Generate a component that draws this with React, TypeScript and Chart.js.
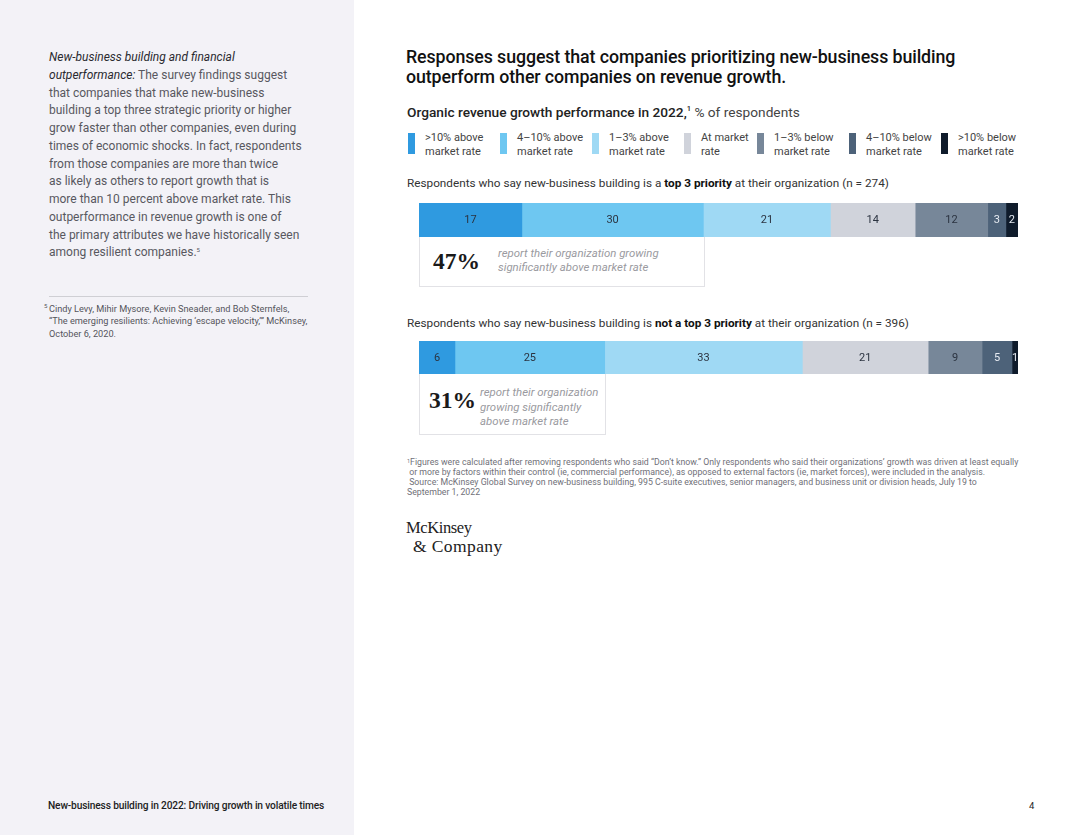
import React, { useEffect, useRef } from 'react';
import { Chart, registerables } from 'chart.js';

Chart.register(...registerables);

// ---------- DATA ----------
const categories = [
  '>10% above market rate',
  '4–10% above market rate',
  '1–3% above market rate',
  'At market rate',
  '1–3% below market rate',
  '4–10% below market rate',
  '>10% below market rate',
];
const legendLines = [
  ['>10% above', 'market rate'],
  ['4–10% above', 'market rate'],
  ['1–3% above', 'market rate'],
  ['At market', 'rate'],
  ['1–3% below', 'market rate'],
  ['4–10% below', 'market rate'],
  ['>10% below', 'market rate'],
];
const top3Values = [17, 30, 21, 14, 12, 3, 2];
const notTop3Values = [6, 25, 33, 21, 9, 5, 1];

// ---------- STYLE ----------
const colors = ['#2f9ae0', '#6ec7f1', '#9fd9f4', '#d0d3db', '#778799', '#4d6279', '#0f1b2b'];
const labelColors = ['#2b3340', '#2b3340', '#2b3340', '#2b3340', '#2b3340', '#e6ebf2', '#e6ebf2'];
const legendX = [408, 500, 592, 684, 757, 849, 941];

const FONT = 'Roboto, "Noto Sans", sans-serif';
const SERIF = '"Liberation Serif", "DejaVu Serif", serif';

const segmentLabels = {
  id: 'segmentLabels',
  afterDatasetsDraw(chart: any) {
    const ctx = chart.ctx;
    ctx.save();
    ctx.font = '11px Roboto';
    ctx.textAlign = 'center';
    ctx.textBaseline = 'middle';
    chart.data.datasets.forEach((ds: any, i: number) => {
      const meta = chart.getDatasetMeta(i);
      meta.data.forEach((el: any, j: number) => {
        const p = el.getProps(['x', 'base', 'y'], true);
        ctx.fillStyle = labelColors[i];
        ctx.fillText(String(ds.data[j]), (p.x + p.base) / 2, p.y + 0.5);
      });
    });
    ctx.restore();
  },
};

function StackedBar({ values, top, height }: { values: number[]; top: number; height: number }) {
  const ref = useRef<HTMLCanvasElement | null>(null);
  useEffect(() => {
    const total = values.reduce((a, b) => a + b, 0);
    const chart = new Chart(ref.current as HTMLCanvasElement, {
      type: 'bar',
      data: {
        labels: [''],
        datasets: categories.map((c, i) => ({
          label: c,
          data: [values[i]],
          backgroundColor: colors[i],
          borderWidth: 0,
          barPercentage: 1,
          categoryPercentage: 1,
        })),
      },
      options: {
        indexAxis: 'y',
        animation: false,
        responsive: true,
        maintainAspectRatio: false,
        layout: { padding: 0 },
        plugins: { legend: { display: false }, tooltip: { enabled: false } },
        scales: {
          x: { stacked: true, min: 0, max: total, display: false },
          y: { stacked: true, display: false },
        },
      } as any,
      plugins: [segmentLabels as any],
    });
    return () => chart.destroy();
  }, [values]);
  return (
    <div style={{ position: 'absolute', left: 419, top, width: 599, height }}>
      <canvas ref={ref} />
    </div>
  );
}

const abs = (left: number, top: number, extra: React.CSSProperties = {}): React.CSSProperties => ({
  position: 'absolute',
  left,
  top,
  whiteSpace: 'nowrap',
  ...extra,
});

const leftLines: React.ReactNode[] = [
  <i style={{ color: '#2a2a30' }}>New-business building and financial</i>,
  <><i style={{ color: '#2a2a30' }}>outperformance:</i> The survey findings suggest</>,
  'that companies that make new-business',
  'building a top three strategic priority or higher',
  'grow faster than other companies, even during',
  'times of economic shocks. In fact, respondents',
  'from those companies are more than twice',
  'as likely as others to report growth that is',
  'more than 10 percent above market rate. This',
  'outperformance in revenue growth is one of',
  'the primary attributes we have historically seen',
  <>among resilient companies.<sup style={{ fontSize: 6, verticalAlign: 'top', lineHeight: '12px' }}>5</sup></>,
];

export default function App() {
  useEffect(() => {
    document.body.style.margin = '0';
  }, []);
  return (
    <div
      style={{
        position: 'fixed',
        left: 0,
        top: 0,
        width: 1080,
        height: 835,
        background: '#ffffff',
        fontFamily: FONT,
        overflow: 'hidden',
      }}
    >
      {/* Left panel */}
      <div style={{ position: 'absolute', left: 0, top: 0, width: 354, height: 835, background: '#f3f2f7' }} />
      <div style={abs(49, 49, { fontSize: 12, lineHeight: '17.75px', color: '#58585f' })}>
        {leftLines.map((l, i) => (
          <div key={i}>{l}</div>
        ))}
      </div>
      <div style={{ position: 'absolute', left: 49, top: 296, width: 259, height: 1, background: '#cfcfd4' }} />
      <div style={abs(44, 302, { fontSize: 6, color: '#55555c' })}>5</div>
      <div style={abs(49, 302.5, { fontSize: 9.2, lineHeight: '12.5px', color: '#55555c' })}>
        <div>Cindy Levy, Mihir Mysore, Kevin Sneader, and Bob Sternfels,</div>
        <div>“The emerging resilients: Achieving ‘escape velocity,’” McKinsey,</div>
        <div>October 6, 2020.</div>
      </div>
      <div style={abs(48, 800, { fontSize: 10.2, lineHeight: '12px', color: '#1e1e24', fontWeight: 500, letterSpacing: -0.15 })}>
        New-business building in 2022: Driving growth in volatile times
      </div>
      <div style={abs(1029, 800, { fontSize: 9.5, lineHeight: '12px', color: '#1e1e24' })}>4</div>

      {/* Title */}
      <div style={abs(406, 47, { fontSize: 17.8, lineHeight: '20px', fontWeight: 500, color: '#111', letterSpacing: -0.1 })}>
        <div>Responses suggest that companies prioritizing new-business building</div>
        <div>outperform other companies on revenue growth.</div>
      </div>
      <div style={abs(407, 104, { fontSize: 13.7, lineHeight: '16px', color: '#222' })}>
        <span style={{ fontWeight: 500 }}>
          Organic revenue growth performance in 2022,<sup style={{ fontSize: 7.5, verticalAlign: 'top', lineHeight: '10px' }}>1</sup>
        </span>{' '}
        <span style={{ color: '#444' }}>% of respondents</span>
      </div>

      {/* Legend */}
      {legendLines.map((lines, i) => (
        <React.Fragment key={i}>
          <div style={{ position: 'absolute', left: legendX[i], top: 133, width: 7, height: 21, background: colors[i] }} />
          <div style={abs(legendX[i] + 17, 131, { fontSize: 11, lineHeight: '14px', color: '#444' })}>
            <div>{lines[0]}</div>
            <div>{lines[1]}</div>
          </div>
        </React.Fragment>
      ))}

      {/* Group 1 */}
      <div style={abs(407, 176, { fontSize: 11.75, lineHeight: '14px', color: '#333' })}>
        Respondents who say new-business building is a <b style={{ fontWeight: 700, color: '#111' }}>top 3 priority</b> at their organization (n = 274)
      </div>
      <StackedBar values={top3Values} top={203} height={34} />
      <div
        style={{
          position: 'absolute',
          left: 419,
          top: 237,
          width: 284,
          height: 49,
          borderLeft: '1px solid #e2e2e6',
          borderRight: '1px solid #e2e2e6',
          borderBottom: '1px solid #e2e2e6',
        }}
      />
      <div style={abs(433, 248, { fontFamily: SERIF, fontSize: 23.5, lineHeight: '26px', fontWeight: 700, color: '#1a1a1a' })}>47%</div>
      <div style={abs(498, 246, { fontSize: 11.4, lineHeight: '14px', color: '#9a9aa0', fontStyle: 'italic' })}>
        <div>report their organization growing</div>
        <div>significantly above market rate</div>
      </div>

      {/* Group 2 */}
      <div style={abs(407, 316, { fontSize: 11.75, lineHeight: '14px', color: '#333' })}>
        Respondents who say new-business building is <b style={{ fontWeight: 700, color: '#111' }}>not a top 3 priority</b> at their organization (n = 396)
      </div>
      <StackedBar values={notTop3Values} top={341} height={33} />
      <div
        style={{
          position: 'absolute',
          left: 419,
          top: 374,
          width: 185,
          height: 60,
          borderLeft: '1px solid #e2e2e6',
          borderRight: '1px solid #e2e2e6',
          borderBottom: '1px solid #e2e2e6',
        }}
      />
      <div style={abs(429, 387, { fontFamily: SERIF, fontSize: 23.5, lineHeight: '26px', fontWeight: 700, color: '#1a1a1a' })}>31%</div>
      <div style={abs(480, 385, { fontSize: 11.4, lineHeight: '14.5px', color: '#9a9aa0', fontStyle: 'italic' })}>
        <div>report their organization</div>
        <div>growing significantly</div>
        <div>above market rate</div>
      </div>

      {/* Footnotes */}
      <div style={abs(407, 457, { fontSize: 8.75, lineHeight: '10px', color: '#707078' })}>
        <div>
          <sup style={{ fontSize: 5.5, verticalAlign: 'top', lineHeight: '8px' }}>1</sup>Figures were calculated after removing respondents who said “Don’t know.” Only respondents who said their organizations’ growth was driven at least equally
        </div>
        <div>&nbsp;or more by factors within their control (ie, commercial performance), as opposed to external factors (ie, market forces), were included in the analysis.</div>
        <div>&nbsp;Source: McKinsey Global Survey on new-business building, 995 C-suite executives, senior managers, and business unit or division heads, July 19 to</div>
        <div>September 1, 2022</div>
      </div>

      {/* Logo */}
      <div style={abs(406, 520, { fontFamily: SERIF, fontSize: 16.5, lineHeight: '16px', color: '#222', letterSpacing: -0.4 })}>McKinsey</div>
      <div style={abs(413, 537.5, { fontFamily: SERIF, fontSize: 17.5, lineHeight: '16px', color: '#222', letterSpacing: 0.4 })}>&amp; Company</div>
    </div>
  );
}
